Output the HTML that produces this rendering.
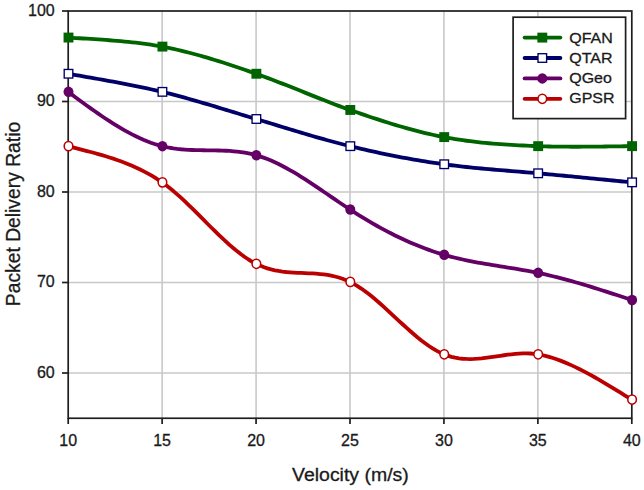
<!DOCTYPE html>
<html><head><meta charset="utf-8"><style>
html,body{margin:0;padding:0;background:#fff;}
body{width:644px;height:490px;overflow:hidden;position:relative;font-family:"Liberation Sans",sans-serif;}
svg{position:absolute;left:0;top:0;}
svg text{font-family:"Liberation Sans",sans-serif;fill:#1a1a1a;stroke:#1a1a1a;stroke-width:0.3px;}
</style></head><body>
<svg width="644" height="490" viewBox="0 0 644 490">

<line x1="162.13" y1="11" x2="162.13" y2="418" stroke="#c8c8c8" stroke-width="1.6"/>
<line x1="256.07" y1="11" x2="256.07" y2="418" stroke="#c8c8c8" stroke-width="1.6"/>
<line x1="350.00" y1="11" x2="350.00" y2="418" stroke="#c8c8c8" stroke-width="1.6"/>
<line x1="443.93" y1="11" x2="443.93" y2="418" stroke="#c8c8c8" stroke-width="1.6"/>
<line x1="537.87" y1="11" x2="537.87" y2="418" stroke="#c8c8c8" stroke-width="1.6"/>
<line x1="68" y1="101.50" x2="632" y2="101.50" stroke="#c8c8c8" stroke-width="1.6"/>
<line x1="68" y1="192.00" x2="632" y2="192.00" stroke="#c8c8c8" stroke-width="1.6"/>
<line x1="68" y1="282.50" x2="632" y2="282.50" stroke="#c8c8c8" stroke-width="1.6"/>
<line x1="68" y1="373.00" x2="632" y2="373.00" stroke="#c8c8c8" stroke-width="1.6"/>
<rect x="68.20" y="11.00" width="563.60" height="407.25" fill="none" stroke="#1e1e1e" stroke-width="1.7"/>
<line x1="62" y1="11.00" x2="68.20" y2="11.00" stroke="#1e1e1e" stroke-width="1.7"/>
<line x1="62" y1="101.50" x2="68.20" y2="101.50" stroke="#1e1e1e" stroke-width="1.7"/>
<line x1="62" y1="192.00" x2="68.20" y2="192.00" stroke="#1e1e1e" stroke-width="1.7"/>
<line x1="62" y1="282.50" x2="68.20" y2="282.50" stroke="#1e1e1e" stroke-width="1.7"/>
<line x1="62" y1="373.00" x2="68.20" y2="373.00" stroke="#1e1e1e" stroke-width="1.7"/>
<line x1="68.20" y1="418.25" x2="68.20" y2="424" stroke="#1e1e1e" stroke-width="1.7"/>
<line x1="162.13" y1="418.25" x2="162.13" y2="424" stroke="#1e1e1e" stroke-width="1.7"/>
<line x1="256.07" y1="418.25" x2="256.07" y2="424" stroke="#1e1e1e" stroke-width="1.7"/>
<line x1="350.00" y1="418.25" x2="350.00" y2="424" stroke="#1e1e1e" stroke-width="1.7"/>
<line x1="443.93" y1="418.25" x2="443.93" y2="424" stroke="#1e1e1e" stroke-width="1.7"/>
<line x1="537.87" y1="418.25" x2="537.87" y2="424" stroke="#1e1e1e" stroke-width="1.7"/>
<line x1="631.80" y1="418.25" x2="631.80" y2="424" stroke="#1e1e1e" stroke-width="1.7"/>
<text x="54.7" y="15.80" font-size="16" text-anchor="end">100</text>
<text x="54.7" y="106.30" font-size="16" text-anchor="end">90</text>
<text x="54.7" y="196.80" font-size="16" text-anchor="end">80</text>
<text x="54.7" y="287.30" font-size="16" text-anchor="end">70</text>
<text x="54.7" y="377.80" font-size="16" text-anchor="end">60</text>
<text x="68.20" y="446" font-size="16" text-anchor="middle">10</text>
<text x="162.13" y="446" font-size="16" text-anchor="middle">15</text>
<text x="256.07" y="446" font-size="16" text-anchor="middle">20</text>
<text x="350.00" y="446" font-size="16" text-anchor="middle">25</text>
<text x="443.93" y="446" font-size="16" text-anchor="middle">30</text>
<text x="537.87" y="446" font-size="16" text-anchor="middle">35</text>
<text x="631.80" y="446" font-size="16" text-anchor="middle">40</text>
<text transform="translate(350.4,480.8) scale(1.03,1)" font-size="18.9" text-anchor="middle">Velocity (m/s)</text>
<text transform="translate(19.7,214) rotate(-90)" x="0" y="0" font-size="19.3" text-anchor="middle">Packet Delivery Ratio</text>
<path d="M68.20,37.55 L71.96,37.81 L75.71,38.05 L79.47,38.27 L83.23,38.50 L86.99,38.72 L90.74,38.95 L94.50,39.19 L98.26,39.43 L102.02,39.69 L105.77,39.95 L109.53,40.24 L113.29,40.53 L117.05,40.84 L120.80,41.17 L124.56,41.52 L128.32,41.90 L132.07,42.29 L135.83,42.71 L139.59,43.16 L143.35,43.64 L147.10,44.15 L150.86,44.70 L154.62,45.29 L158.38,45.92 L162.13,46.60 L165.89,47.33 L169.65,48.10 L173.41,48.90 L177.16,49.75 L180.92,50.63 L184.68,51.54 L188.43,52.49 L192.19,53.47 L195.95,54.48 L199.71,55.52 L203.46,56.59 L207.22,57.69 L210.98,58.81 L214.74,59.95 L218.49,61.12 L222.25,62.31 L226.01,63.52 L229.77,64.74 L233.52,65.99 L237.28,67.25 L241.04,68.53 L244.79,69.82 L248.55,71.12 L252.31,72.43 L256.07,73.75 L259.82,75.09 L263.58,76.46 L267.34,77.85 L271.10,79.26 L274.85,80.70 L278.61,82.15 L282.37,83.62 L286.13,85.10 L289.88,86.59 L293.64,88.09 L297.40,89.60 L301.15,91.11 L304.91,92.62 L308.67,94.13 L312.43,95.63 L316.18,97.13 L319.94,98.62 L323.70,100.10 L327.46,101.57 L331.21,103.02 L334.97,104.45 L338.73,105.86 L342.49,107.25 L346.24,108.61 L350.00,109.95 L353.76,111.27 L357.51,112.57 L361.27,113.87 L365.03,115.15 L368.79,116.43 L372.54,117.68 L376.30,118.92 L380.06,120.15 L383.82,121.35 L387.57,122.54 L391.33,123.70 L395.09,124.84 L398.85,125.96 L402.60,127.05 L406.36,128.12 L410.12,129.16 L413.87,130.18 L417.63,131.16 L421.39,132.11 L425.15,133.03 L428.90,133.92 L432.66,134.77 L436.42,135.58 L440.18,136.36 L443.93,137.10 L447.69,137.80 L451.45,138.46 L455.21,139.09 L458.96,139.68 L462.72,140.23 L466.48,140.75 L470.23,141.24 L473.99,141.70 L477.75,142.13 L481.51,142.53 L485.26,142.91 L489.02,143.26 L492.78,143.59 L496.54,143.89 L500.29,144.18 L504.05,144.44 L507.81,144.69 L511.57,144.91 L515.32,145.13 L519.08,145.33 L522.84,145.51 L526.59,145.69 L530.35,145.85 L534.11,146.00 L537.87,146.15 L541.62,146.28 L545.38,146.39 L549.14,146.48 L552.90,146.56 L556.65,146.62 L560.41,146.67 L564.17,146.70 L567.93,146.72 L571.68,146.73 L575.44,146.74 L579.20,146.73 L582.95,146.72 L586.71,146.70 L590.47,146.67 L594.23,146.63 L597.98,146.60 L601.74,146.55 L605.50,146.50 L609.26,146.45 L613.01,146.40 L616.77,146.34 L620.53,146.29 L624.29,146.24 L628.04,146.19 L631.80,146.15" fill="none" stroke="#006400" stroke-width="3.8" stroke-linejoin="round" stroke-linecap="round"/>
<path d="M68.20,73.75 L71.96,74.42 L75.71,75.07 L79.47,75.73 L83.23,76.38 L86.99,77.03 L90.74,77.68 L94.50,78.34 L98.26,79.00 L102.02,79.67 L105.77,80.34 L109.53,81.02 L113.29,81.71 L117.05,82.41 L120.80,83.12 L124.56,83.84 L128.32,84.56 L132.07,85.31 L135.83,86.06 L139.59,86.83 L143.35,87.62 L147.10,88.42 L150.86,89.25 L154.62,90.09 L158.38,90.96 L162.13,91.85 L165.89,92.77 L169.65,93.71 L173.41,94.68 L177.16,95.67 L180.92,96.67 L184.68,97.70 L188.43,98.74 L192.19,99.80 L195.95,100.88 L199.71,101.97 L203.46,103.07 L207.22,104.18 L210.98,105.30 L214.74,106.43 L218.49,107.56 L222.25,108.70 L226.01,109.85 L229.77,111.00 L233.52,112.15 L237.28,113.30 L241.04,114.45 L244.79,115.59 L248.55,116.73 L252.31,117.87 L256.07,119.00 L259.82,120.13 L263.58,121.26 L267.34,122.40 L271.10,123.55 L274.85,124.69 L278.61,125.83 L282.37,126.98 L286.13,128.12 L289.88,129.26 L293.64,130.40 L297.40,131.53 L301.15,132.65 L304.91,133.77 L308.67,134.88 L312.43,135.97 L316.18,137.06 L319.94,138.13 L323.70,139.20 L327.46,140.24 L331.21,141.27 L334.97,142.29 L338.73,143.28 L342.49,144.26 L346.24,145.22 L350.00,146.15 L353.76,147.07 L357.51,147.96 L361.27,148.85 L365.03,149.72 L368.79,150.57 L372.54,151.41 L376.30,152.23 L380.06,153.03 L383.82,153.82 L387.57,154.59 L391.33,155.35 L395.09,156.09 L398.85,156.82 L402.60,157.53 L406.36,158.22 L410.12,158.90 L413.87,159.56 L417.63,160.20 L421.39,160.83 L425.15,161.44 L428.90,162.03 L432.66,162.61 L436.42,163.18 L440.18,163.72 L443.93,164.25 L447.69,164.76 L451.45,165.25 L455.21,165.71 L458.96,166.16 L462.72,166.58 L466.48,166.99 L470.23,167.39 L473.99,167.77 L477.75,168.13 L481.51,168.49 L485.26,168.83 L489.02,169.17 L492.78,169.49 L496.54,169.82 L500.29,170.13 L504.05,170.44 L507.81,170.75 L511.57,171.06 L515.32,171.37 L519.08,171.68 L522.84,171.99 L526.59,172.31 L530.35,172.63 L534.11,172.96 L537.87,173.30 L541.62,173.64 L545.38,173.99 L549.14,174.34 L552.90,174.69 L556.65,175.04 L560.41,175.39 L564.17,175.75 L567.93,176.11 L571.68,176.47 L575.44,176.83 L579.20,177.19 L582.95,177.55 L586.71,177.92 L590.47,178.28 L594.23,178.65 L597.98,179.02 L601.74,179.38 L605.50,179.75 L609.26,180.12 L613.01,180.49 L616.77,180.86 L620.53,181.24 L624.29,181.61 L628.04,181.98 L631.80,182.35" fill="none" stroke="#000068" stroke-width="3.8" stroke-linejoin="round" stroke-linecap="round"/>
<path d="M68.20,91.85 L71.96,94.64 L75.71,97.42 L79.47,100.19 L83.23,102.94 L86.99,105.67 L90.74,108.36 L94.50,111.03 L98.26,113.65 L102.02,116.22 L105.77,118.74 L109.53,121.20 L113.29,123.60 L117.05,125.93 L120.80,128.18 L124.56,130.34 L128.32,132.42 L132.07,134.40 L135.83,136.28 L139.59,138.06 L143.35,139.72 L147.10,141.27 L150.86,142.69 L154.62,143.98 L158.38,145.14 L162.13,146.15 L165.89,147.02 L169.65,147.75 L173.41,148.36 L177.16,148.86 L180.92,149.26 L184.68,149.57 L188.43,149.81 L192.19,149.98 L195.95,150.11 L199.71,150.19 L203.46,150.25 L207.22,150.30 L210.98,150.35 L214.74,150.40 L218.49,150.48 L222.25,150.59 L226.01,150.75 L229.77,150.97 L233.52,151.27 L237.28,151.64 L241.04,152.11 L244.79,152.69 L248.55,153.39 L252.31,154.22 L256.07,155.20 L259.82,156.33 L263.58,157.61 L267.34,159.03 L271.10,160.58 L274.85,162.26 L278.61,164.05 L282.37,165.95 L286.13,167.95 L289.88,170.05 L293.64,172.23 L297.40,174.48 L301.15,176.80 L304.91,179.18 L308.67,181.62 L312.43,184.10 L316.18,186.61 L319.94,189.15 L323.70,191.71 L327.46,194.28 L331.21,196.86 L334.97,199.43 L338.73,201.98 L342.49,204.52 L346.24,207.03 L350.00,209.50 L353.76,211.93 L357.51,214.31 L361.27,216.64 L365.03,218.93 L368.79,221.17 L372.54,223.36 L376.30,225.50 L380.06,227.59 L383.82,229.63 L387.57,231.62 L391.33,233.55 L395.09,235.44 L398.85,237.27 L402.60,239.04 L406.36,240.76 L410.12,242.42 L413.87,244.03 L417.63,245.58 L421.39,247.07 L425.15,248.50 L428.90,249.87 L432.66,251.18 L436.42,252.43 L440.18,253.62 L443.93,254.75 L447.69,255.81 L451.45,256.82 L455.21,257.77 L458.96,258.67 L462.72,259.52 L466.48,260.33 L470.23,261.09 L473.99,261.83 L477.75,262.53 L481.51,263.21 L485.26,263.86 L489.02,264.49 L492.78,265.11 L496.54,265.72 L500.29,266.32 L504.05,266.92 L507.81,267.52 L511.57,268.13 L515.32,268.74 L519.08,269.37 L522.84,270.01 L526.59,270.68 L530.35,271.37 L534.11,272.09 L537.87,272.85 L541.62,273.64 L545.38,274.47 L549.14,275.33 L552.90,276.23 L556.65,277.15 L560.41,278.11 L564.17,279.10 L567.93,280.11 L571.68,281.15 L575.44,282.21 L579.20,283.29 L582.95,284.40 L586.71,285.52 L590.47,286.67 L594.23,287.83 L597.98,289.00 L601.74,290.19 L605.50,291.39 L609.26,292.60 L613.01,293.82 L616.77,295.05 L620.53,296.28 L624.29,297.52 L628.04,298.76 L631.80,300.00" fill="none" stroke="#640066" stroke-width="3.8" stroke-linejoin="round" stroke-linecap="round"/>
<path d="M68.20,146.15 L71.96,147.18 L75.71,148.16 L79.47,149.12 L83.23,150.07 L86.99,151.04 L90.74,152.02 L94.50,153.03 L98.26,154.07 L102.02,155.15 L105.77,156.27 L109.53,157.44 L113.29,158.66 L117.05,159.95 L120.80,161.30 L124.56,162.72 L128.32,164.21 L132.07,165.80 L135.83,167.47 L139.59,169.23 L143.35,171.10 L147.10,173.09 L150.86,175.19 L154.62,177.43 L158.38,179.81 L162.13,182.35 L165.89,185.08 L169.65,188.00 L173.41,191.09 L177.16,194.33 L180.92,197.71 L184.68,201.20 L188.43,204.79 L192.19,208.45 L195.95,212.17 L199.71,215.93 L203.46,219.71 L207.22,223.48 L210.98,227.24 L214.74,230.96 L218.49,234.61 L222.25,238.20 L226.01,241.68 L229.77,245.05 L233.52,248.29 L237.28,251.37 L241.04,254.28 L244.79,256.99 L248.55,259.50 L252.31,261.77 L256.07,263.80 L259.82,265.56 L263.58,267.07 L267.34,268.34 L271.10,269.40 L274.85,270.28 L278.61,270.98 L282.37,271.55 L286.13,271.99 L289.88,272.33 L293.64,272.59 L297.40,272.79 L301.15,272.96 L304.91,273.11 L308.67,273.28 L312.43,273.47 L316.18,273.72 L319.94,274.04 L323.70,274.45 L327.46,274.99 L331.21,275.66 L334.97,276.50 L338.73,277.52 L342.49,278.75 L346.24,280.20 L350.00,281.90 L353.76,283.87 L357.51,286.09 L361.27,288.55 L365.03,291.22 L368.79,294.07 L372.54,297.08 L376.30,300.23 L380.06,303.50 L383.82,306.86 L387.57,310.29 L391.33,313.77 L395.09,317.27 L398.85,320.77 L402.60,324.25 L406.36,327.68 L410.12,331.04 L413.87,334.30 L417.63,337.45 L421.39,340.46 L425.15,343.31 L428.90,345.98 L432.66,348.43 L436.42,350.65 L440.18,352.61 L443.93,354.30 L447.69,355.69 L451.45,356.82 L455.21,357.68 L458.96,358.32 L462.72,358.74 L466.48,358.97 L470.23,359.03 L473.99,358.94 L477.75,358.71 L481.51,358.38 L485.26,357.96 L489.02,357.47 L492.78,356.94 L496.54,356.38 L500.29,355.81 L504.05,355.25 L507.81,354.73 L511.57,354.27 L515.32,353.88 L519.08,353.59 L522.84,353.41 L526.59,353.38 L530.35,353.50 L534.11,353.80 L537.87,354.30 L541.62,354.99 L545.38,355.85 L549.14,356.86 L552.90,357.99 L556.65,359.26 L560.41,360.63 L564.17,362.12 L567.93,363.70 L571.68,365.37 L575.44,367.13 L579.20,368.97 L582.95,370.88 L586.71,372.86 L590.47,374.89 L594.23,376.99 L597.98,379.13 L601.74,381.32 L605.50,383.55 L609.26,385.80 L613.01,388.09 L616.77,390.39 L620.53,392.71 L624.29,395.02 L628.04,397.31 L631.80,399.55" fill="none" stroke="#ba0000" stroke-width="3.8" stroke-linejoin="round" stroke-linecap="round"/>
<rect x="63.55" y="32.60" width="9.90" height="9.90" fill="#006400"/>
<rect x="157.48" y="41.65" width="9.90" height="9.90" fill="#006400"/>
<rect x="251.42" y="68.80" width="9.90" height="9.90" fill="#006400"/>
<rect x="345.35" y="105.00" width="9.90" height="9.90" fill="#006400"/>
<rect x="439.28" y="132.15" width="9.90" height="9.90" fill="#006400"/>
<rect x="533.22" y="141.20" width="9.90" height="9.90" fill="#006400"/>
<rect x="627.15" y="141.20" width="9.90" height="9.90" fill="#006400"/>
<rect x="64.20" y="69.45" width="8.6" height="8.6" fill="#fff" stroke="#000068" stroke-width="1.35"/>
<rect x="158.13" y="87.55" width="8.6" height="8.6" fill="#fff" stroke="#000068" stroke-width="1.35"/>
<rect x="252.07" y="114.70" width="8.6" height="8.6" fill="#fff" stroke="#000068" stroke-width="1.35"/>
<rect x="346.00" y="141.85" width="8.6" height="8.6" fill="#fff" stroke="#000068" stroke-width="1.35"/>
<rect x="439.93" y="159.95" width="8.6" height="8.6" fill="#fff" stroke="#000068" stroke-width="1.35"/>
<rect x="533.87" y="169.00" width="8.6" height="8.6" fill="#fff" stroke="#000068" stroke-width="1.35"/>
<rect x="627.80" y="178.05" width="8.6" height="8.6" fill="#fff" stroke="#000068" stroke-width="1.35"/>
<ellipse cx="68.50" cy="91.85" rx="5.0" ry="5.25" fill="#640066"/>
<ellipse cx="162.43" cy="146.15" rx="5.0" ry="5.25" fill="#640066"/>
<ellipse cx="256.37" cy="155.20" rx="5.0" ry="5.25" fill="#640066"/>
<ellipse cx="350.30" cy="209.50" rx="5.0" ry="5.25" fill="#640066"/>
<ellipse cx="444.23" cy="254.75" rx="5.0" ry="5.25" fill="#640066"/>
<ellipse cx="538.17" cy="272.85" rx="5.0" ry="5.25" fill="#640066"/>
<ellipse cx="632.10" cy="300.00" rx="5.0" ry="5.25" fill="#640066"/>
<ellipse cx="68.50" cy="146.15" rx="4.3" ry="4.6" fill="#fff" stroke="#ba0000" stroke-width="1.55"/>
<ellipse cx="162.43" cy="182.35" rx="4.3" ry="4.6" fill="#fff" stroke="#ba0000" stroke-width="1.55"/>
<ellipse cx="256.37" cy="263.80" rx="4.3" ry="4.6" fill="#fff" stroke="#ba0000" stroke-width="1.55"/>
<ellipse cx="350.30" cy="281.90" rx="4.3" ry="4.6" fill="#fff" stroke="#ba0000" stroke-width="1.55"/>
<ellipse cx="444.23" cy="354.30" rx="4.3" ry="4.6" fill="#fff" stroke="#ba0000" stroke-width="1.55"/>
<ellipse cx="538.17" cy="354.30" rx="4.3" ry="4.6" fill="#fff" stroke="#ba0000" stroke-width="1.55"/>
<ellipse cx="632.10" cy="399.55" rx="4.3" ry="4.6" fill="#fff" stroke="#ba0000" stroke-width="1.55"/>
<rect x="513.1" y="17.2" width="112.5" height="101.4" fill="#fff" stroke="#1e1e1e" stroke-width="1.7"/>
<line x1="524.6" y1="37.60" x2="560.4" y2="37.60" stroke="#006400" stroke-width="3.8" stroke-linecap="round"/>
<rect x="537.35" y="32.65" width="9.90" height="9.90" fill="#006400"/>
<text transform="translate(569.2,42.60) scale(1,0.93)" font-size="16">QFAN</text>
<line x1="524.6" y1="58.00" x2="560.4" y2="58.00" stroke="#000068" stroke-width="3.8" stroke-linecap="round"/>
<rect x="538.00" y="53.70" width="8.6" height="8.6" fill="#fff" stroke="#000068" stroke-width="1.35"/>
<text transform="translate(569.2,62.57) scale(1,0.93)" font-size="16">QTAR</text>
<line x1="524.6" y1="78.40" x2="560.4" y2="78.40" stroke="#640066" stroke-width="3.8" stroke-linecap="round"/>
<ellipse cx="542.30" cy="78.40" rx="5.0" ry="5.25" fill="#640066"/>
<text transform="translate(569.2,82.54) scale(1,0.93)" font-size="16">QGeo</text>
<line x1="524.6" y1="98.80" x2="560.4" y2="98.80" stroke="#ba0000" stroke-width="3.8" stroke-linecap="round"/>
<ellipse cx="542.30" cy="98.80" rx="4.3" ry="4.6" fill="#fff" stroke="#ba0000" stroke-width="1.55"/>
<text transform="translate(569.2,102.51) scale(1,0.93)" font-size="16">GPSR</text>
</svg>
</body></html>
